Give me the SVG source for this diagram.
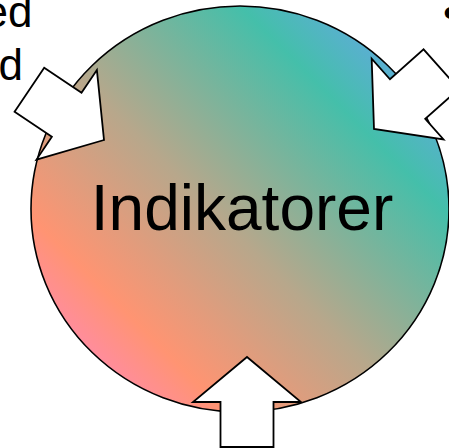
<svg xmlns="http://www.w3.org/2000/svg" width="449" height="448" viewBox="0 0 449 448">
  <style>
    .txt { font-family: "Liberation Sans", Arial, sans-serif; fill: #000; }
    .blk { fill: #fff; stroke: #000; stroke-width: 1.8; stroke-linejoin: miter; }
  </style>
  <defs>
    <linearGradient id="grad" gradientUnits="userSpaceOnUse" x1="20" y1="290" x2="320" y2="-10">
      <stop offset="0" stop-color="#FF8CA2"/>
      <stop offset="0.14" stop-color="#FF9472"/>
      <stop offset="0.45" stop-color="#B8A78B"/>
      <stop offset="0.84" stop-color="#44BFAA"/>
      <stop offset="1" stop-color="#5CAED4"/>
    </linearGradient>
    <path id="blockArrow" d="M0,0 L54,45 L26.5,45 L26.5,90 L-26.5,90 L-26.5,45 L-54,45 Z"/>
  </defs>

  <g id="node-indikatorer">
    <ellipse cx="240" cy="209" rx="209" ry="203" fill="url(#grad)" stroke="#000" stroke-width="1.6"/>
    <text class="txt" x="242" y="230" font-size="64" text-anchor="middle">Indikatorer</text>
  </g>

  <g id="connectors">
    <use href="#blockArrow" class="blk" transform="translate(104,140) rotate(124)"/>
    <use href="#blockArrow" class="blk" transform="translate(374,129) rotate(228.3)"/>
    <use href="#blockArrow" class="blk" transform="translate(247,357)"/>
  </g>

  <g id="side-text">
    <text class="txt" x="32.5" y="27" font-size="44" text-anchor="end">ed</text>
    <text class="txt" x="23" y="80" font-size="44" text-anchor="end">d</text>
    <text class="txt" x="443" y="28" font-size="44">•</text>
  </g>
</svg>
